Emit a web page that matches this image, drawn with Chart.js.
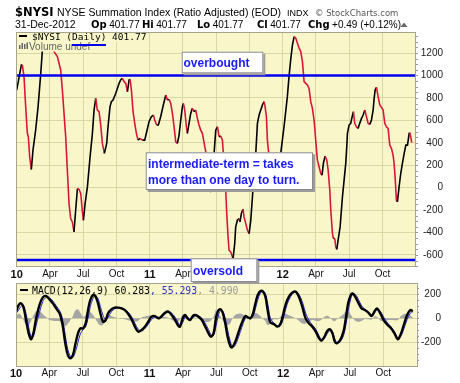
<!DOCTYPE html>
<html><head><meta charset="utf-8">
<script src="https://cdn.jsdelivr.net/npm/chart.js@4.4.0/dist/chart.umd.min.js"></script>
<style>
html,body{margin:0;padding:0;background:#fff;width:460px;height:383px;overflow:hidden}
canvas{position:absolute;left:0;top:0}
</style></head><body>
<canvas id="macd" width="460" height="383"></canvas>
<canvas id="main" width="460" height="383"></canvas>
<script>
// ---------- data ----------
const monthTickLabels = ['10','Apr','Jul','Oct','11','Apr','Jul','Oct','12','Apr','Jul','Oct'];
const monthTickValues = [0,3,6,9,12,15,18,21,24,27,30,33];
const nysiYTicks = [-600,-400,-200,0,200,400,600,800,1000,1200];
const macdYTicks = [-200,0,200];
const overbought = 1000;
const oversold = -645;
const headerStats = {date:'31-Dec-2012', op:'401.77', hi:'401.77', lo:'401.77', cl:'401.77', chg:'+0.49 (+0.12%)'};
const legendLast = '401.77';
const macdLegend = ['60.283', '55.293', '4.990'];

// months since Jan 2010
const nysiMonth = [
0.00,0.42,0.51,0.66,0.81,0.96,1.05,1.17,1.32,1.47,
1.71,1.93,2.17,2.32,2.55,2.85,3.10,3.37,3.67,3.97,
4.12,4.27,4.42,4.57,4.72,4.87,5.02,5.17,5.32,5.48,
5.63,5.78,5.93,6.02,6.17,6.38,6.62,6.83,6.98,7.13,
7.28,7.43,7.58,7.73,7.91,8.12,8.24,8.42,8.54,8.69,
8.94,9.24,9.38,9.53,9.69,9.84,9.99,10.14,10.23,10.35,
10.50,10.65,10.80,10.95,11.13,11.34,11.55,11.73,11.94,12.15,
12.33,12.45,12.63,12.78,12.99,13.23,13.45,13.60,13.75,13.90,
14.05,14.20,14.35,14.50,14.65,14.80,14.95,15.04,15.16,15.31,
15.40,15.55,15.70,15.85,16.00,16.15,16.30,16.45,16.60,16.75,
16.84,16.97,17.09,17.27,17.45,17.57,17.81,17.96,18.11,18.26,
18.41,18.56,18.71,18.86,18.95,19.07,19.16,19.31,19.47,19.52,
19.67,19.76,19.91,20.06,20.15,20.27,20.42,20.51,20.67,20.82,
20.97,21.12,21.27,21.42,21.57,21.72,21.87,22.02,22.17,22.32,
22.41,22.53,22.62,22.71,22.77,22.98,23.22,23.52,23.82,24.12,
24.42,24.57,24.72,24.88,25.03,25.18,25.33,25.48,25.63,25.78,
25.87,25.93,26.08,26.23,26.38,26.53,26.68,26.83,26.98,27.13,
27.28,27.43,27.55,27.67,27.82,27.98,28.10,28.25,28.34,28.49,
28.58,28.70,28.79,28.88,29.00,29.18,29.39,29.54,29.69,29.78,
29.84,29.99,30.14,30.23,30.38,30.50,30.65,30.80,30.95,31.11,
31.26,31.41,31.56,31.71,31.86,32.01,32.16,32.25,32.34,32.46,
32.61,32.76,32.91,33.06,33.21,33.36,33.51,33.66,33.81,33.96,
34.05,34.14,34.26,34.35,34.50,34.65,34.80,34.96,35.11,35.26,
35.41,35.46,35.55,35.64];
const nysiValue = [
870,1094,1094,990,722,484,454,275,162,335,
513,722,1019,1228,1300,1340,1290,1213,1168,1049,
870,662,454,156,-142,-276,-306,-395,-202,-8,
-17,-53,-217,-291,-142,7,275,484,692,796,
692,677,558,394,305,394,543,722,766,781,
841,930,960,975,945,930,856,960,966,870,
677,573,484,424,439,424,424,498,588,632,
647,603,558,558,632,737,826,781,787,751,
662,543,409,394,469,603,722,751,692,543,
484,573,662,707,677,692,617,558,513,484,
439,365,305,126,-38,-30,305,513,543,454,
460,424,216,-24,-231,-439,-558,-573,-618,-633,
-499,-350,-291,-276,-306,-231,-192,-261,-321,-380,
-410,-291,-82,126,305,573,647,692,737,766,
722,632,424,335,275,96,36,156,305,543,
811,990,1139,1272,1347,1332,1287,1243,1213,1124,
1019,945,930,915,885,766,707,603,424,245,
186,126,111,216,281,245,156,-23,-201,-410,
-454,-454,-529,-550,-469,-350,-82,67,216,365,
483,558,573,617,677,573,543,528,573,617,
647,692,632,573,564,603,692,796,870,894,
811,737,716,692,573,543,528,379,350,290,
216,96,-112,-127,7,126,216,305,379,379,
484,489,454,402];

const macdMonth = [
0,0.24,0.45,0.66,0.90,1.14,1.35,1.56,1.81,2.11,
2.41,2.71,3.01,3.31,3.61,3.91,4.06,4.21,4.36,4.51,
4.66,4.87,5.11,5.35,5.57,5.78,6.02,6.26,6.47,6.68,
6.92,7.13,7.37,7.58,7.82,8.06,8.27,8.57,8.87,9.18,
9.48,9.78,10.08,10.38,10.68,10.98,11.28,11.58,11.88,12.18,
12.48,12.79,13.09,13.39,13.69,13.99,14.29,14.59,14.74,14.98,
15.19,15.40,15.64,15.88,16.09,16.40,16.70,17.00,17.30,17.51,
17.75,17.99,18.20,18.41,18.59,18.80,19.01,19.25,19.40,19.61,
19.86,20.16,20.40,20.61,20.82,21.06,21.30,21.51,21.72,21.96,
22.20,22.41,22.56,22.71,22.86,23.16,23.47,23.71,23.92,24.13,
24.37,24.67,24.97,25.18,25.42,25.72,26.02,26.32,26.62,26.93,
27.23,27.44,27.68,27.98,28.22,28.43,28.64,28.82,29.12,29.42,
29.63,29.84,30.08,30.23,30.48,30.75,31.05,31.35,31.65,31.95,
32.19,32.43,32.73,33.03,33.39,33.69,34.00,34.30,34.54,34.84,
35.14,35.44,35.65];
const macdValue = [
56,111,125,97,-14,-125,-175,-125,0,111,
175,186,158,125,83,42,0,-69,-167,-250,
-306,-333,-306,-208,-125,-83,-83,-42,69,153,
194,186,125,42,-28,-14,42,75,89,89,
83,69,36,-8,-69,-111,-97,-69,-28,14,
19,0,19,47,56,28,-14,-64,-69,0,
28,0,-14,19,28,14,-14,-69,-125,-153,
-125,14,69,75,42,-42,-153,-231,-242,-214,
-153,-69,-14,19,8,0,42,125,194,228,
222,180,97,14,-36,-47,-69,-55,0,83,
153,200,222,219,180,97,0,-42,-69,-111,
-167,-186,-158,-103,-92,-125,-194,-208,-181,-111,
0,125,194,208,180,131,83,69,47,19,
56,83,42,-14,-55,-83,-125,-175,-139,-55,
28,69,60];
const signalValue = [
40,70,100,108,40,-70,-150,-150,-60,50,
140,175,172,145,105,65,35,-20,-100,-190,
-260,-315,-325,-275,-200,-130,-95,-70,0,100,
165,190,165,100,25,-10,10,55,80,88,
86,76,52,15,-40,-90,-105,-85,-50,-10,
12,10,8,35,52,42,10,-40,-60,-35,
10,12,-5,5,22,20,0,-40,-95,-135,
-140,-60,30,65,60,0,-95,-190,-230,-235,
-190,-110,-45,0,12,5,15,80,155,210,
228,205,150,70,0,-40,-60,-65,-30,40,
120,180,215,222,200,140,45,-15,-55,-90,
-145,-175,-170,-125,-100,-110,-170,-200,-195,-145,
-60,60,165,200,200,160,105,75,55,30,
40,70,60,10,-40,-70,-110,-160,-155,-90,
-10,45,55];
const histValue = [
16,41,25,-11,-54,-55,-25,25,60,61,
35,11,-14,-20,-22,-23,-35,-49,-67,-60,
-46,-18,19,67,75,47,12,28,69,53,
29,-4,-40,-58,-53,-4,32,20,9,1,
-3,-7,-16,-23,-29,-21,8,16,22,24,
7,-10,11,12,4,-14,-24,-24,-9,35,
18,-12,-9,14,6,-6,-14,-29,-30,-18,
15,74,39,10,-18,-42,-58,-41,-12,21,
37,41,31,19,-4,-5,27,45,39,18,
-6,-25,-53,-56,-36,-7,-9,10,30,43,
33,20,7,-3,-20,-43,-45,-27,-14,-21,
-22,-11,12,22,8,-15,-24,-8,14,34,
60,65,29,8,-20,-29,-22,-6,-8,-11,
16,13,-18,-24,-15,-13,-15,-15,16,35,
38,24,5];

// ---------- styles ----------
const PLOT_BG = '#f9f7c9', GRID = '#d9d8a4', BORDER = '#a5a48c';
const RED = '#dc143c', BLUE = '#0000ee', TEXTBLUE = '#1a1aff';
const SANS = '"Liberation Sans", Arial, sans-serif';
Chart.defaults.font.family = SANS;

const pts = (xs, ys) => xs.map((x, i) => ({x, y: ys[i]}));

function frame(chart) {
  const {ctx, chartArea: a} = chart;
  ctx.save();
  ctx.strokeStyle = BORDER; ctx.lineWidth = 1;
  ctx.strokeRect(Math.floor(a.left) + 0.5, Math.floor(a.top) + 0.5,
                 Math.round(a.right - a.left), Math.round(a.bottom - a.top));
  const y = chart.scales.y;
  ctx.strokeStyle = '#999';
  for (let v = Math.ceil(y.min / 50) * 50; v <= y.max; v += 50) {
    const py = Math.round(y.getPixelForValue(v)) + 0.5;
    ctx.beginPath(); ctx.moveTo(Math.round(a.right), py); ctx.lineTo(Math.round(a.right) + 2, py); ctx.stroke();
  }
  ctx.restore();
}
const bgPlugin = {
  id: 'bg',
  beforeDraw(chart) {
    const {ctx, chartArea: a} = chart;
    ctx.save(); ctx.fillStyle = PLOT_BG;
    ctx.fillRect(a.left, a.top, a.right - a.left, a.bottom - a.top);
    ctx.restore();
  }
};
function noteBox(ctx, x0, y0, x1, y1, lines, tx, ty) {
  ctx.fillStyle = '#9c9c9c'; ctx.fillRect(x0 + 2, y0 + 2, x1 - x0, y1 - y0);
  ctx.fillStyle = '#fff'; ctx.fillRect(x0, y0, x1 - x0, y1 - y0);
  ctx.strokeStyle = '#8a8a8a'; ctx.lineWidth = 1;
  ctx.strokeRect(x0 + 0.5, y0 + 0.5, x1 - x0 - 1, y1 - y0 - 1);
  ctx.fillStyle = TEXTBLUE; ctx.font = 'bold 12px ' + SANS; ctx.textBaseline = 'alphabetic'; ctx.textAlign = 'left';
  lines.forEach((t, i) => ctx.fillText(t, tx, ty + i * 16));
}
const mainDeco = {
  id: 'mainDeco',
  afterDraw(chart) {
    const ctx = chart.ctx;
    frame(chart);
    ctx.save();
    // header
    ctx.textBaseline = 'alphabetic'; ctx.textAlign = 'left'; ctx.fillStyle = '#000';
    ctx.font = 'bold 11.5px "DejaVu Sans"'; ctx.fillText('$NYSI', 15, 15.5);
    ctx.font = '10.5px ' + SANS; ctx.fillText('NYSE Summation Index (Ratio Adjusted) (EOD)', 57, 15.5);
    ctx.font = '9px ' + SANS; ctx.fillText('INDX', 287, 15.5);
    ctx.fillStyle = '#555'; ctx.font = '8.5px "DejaVu Sans"'; ctx.fillText('\u00A9 StockCharts.com', 315, 15.5);
    ctx.fillStyle = '#000'; ctx.font = '10.5px ' + SANS; ctx.fillText(headerStats.date, 15, 28);
    const items = [['Op', 91, headerStats.op], ['Hi', 142, headerStats.hi], ['Lo', 197, headerStats.lo],
                   ['Cl', 257, headerStats.cl], ['Chg', 308, headerStats.chg]];
    for (const [lab, x, val] of items) {
      ctx.font = 'bold 10px "DejaVu Sans"'; ctx.fillText(lab, x, 28);
      const w = ctx.measureText(lab).width;
      ctx.font = '10px ' + SANS; ctx.fillText(val, x + w + 2.5, 28);
    }
    ctx.fillStyle = '#666'; ctx.beginPath();
    ctx.moveTo(400.5, 27); ctx.lineTo(407.5, 27); ctx.lineTo(404, 22.5); ctx.closePath(); ctx.fill();
    // legend
    ctx.fillStyle = PLOT_BG; ctx.fillRect(17.5, 33, 131, 9); ctx.fillRect(17.5, 42, 75, 9.5);
    ctx.fillStyle = '#000'; ctx.fillRect(19, 35, 8, 2);
    ctx.font = '9.5px "DejaVu Sans Mono"'; ctx.fillText('$NYSI (Daily) ' + legendLast, 32, 39.5);
    ctx.fillStyle = '#666';
    ctx.fillRect(19, 45, 1.5, 4); ctx.fillRect(21.5, 43, 1.5, 6); ctx.fillRect(24, 44, 1.5, 5); ctx.fillRect(26.5, 42.5, 1.5, 6.5);
    ctx.font = '10px ' + SANS; ctx.fillText('Volume undef', 29, 49.5);
    ctx.fillStyle = BLUE; ctx.fillRect(72, 44, 34, 2);
    // notes
    noteBox(ctx, 181.7, 51.7, 263.3, 73.3, ['overbought'], 183.5, 67);
    noteBox(ctx, 145.7, 152.3, 313, 190, ['intermediate-term = takes', 'more than one day to turn.'], 148, 168);
    noteBox(ctx, 190.7, 258.3, 257.3, 282, ['oversold'], 193, 275);
    ctx.restore();
  }
};
const macdDeco = {
  id: 'macdDeco',
  afterDraw(chart) {
    const ctx = chart.ctx;
    frame(chart);
    ctx.save();
    ctx.textBaseline = 'alphabetic'; ctx.textAlign = 'left';
    ctx.font = '9.8px "DejaVu Sans Mono"';
    ctx.fillStyle = '#000'; ctx.fillRect(20, 289, 8, 2);
    let x = 32;
    const parts = [['MACD(12,26,9) ' + macdLegend[0], '#000'], [', ' + macdLegend[1], '#3030c8'], [', ' + macdLegend[2], '#999']];
    for (const [t, c] of parts) { ctx.fillStyle = c; ctx.fillText(t, x, 294); x += ctx.measureText(t).width; }
    ctx.restore();
  }
};

function xAxis(height, pad) {
  return {
    type: 'linear', min: 0, max: 36,
    afterBuildTicks: s => { s.ticks = monthTickValues.map(v => ({value: v})); },
    afterFit: s => { s.height = height; },
    grid: {color: GRID, drawTicks: false, lineWidth: 1},
    border: {display: false},
    ticks: {
      padding: pad, color: '#111', autoSkip: false, maxRotation: 0, minRotation: 0,
      callback: (v, i) => monthTickLabels[i],
      font: c => (c.index % 4 === 0) ? {family: SANS, size: 11, weight: 'bold'} : {family: SANS, size: 10}
    }
  };
}
function yAxis(min, max, ticks, width) {
  return {
    type: 'linear', position: 'right', min, max,
    afterBuildTicks: s => { s.ticks = ticks.map(v => ({value: v})); },
    afterFit: s => { s.width = width; },
    grid: {color: GRID, drawTicks: false, lineWidth: 1},
    border: {display: false},
    ticks: {crossAlign: 'far', padding: 0, color: '#222', font: {family: SANS, size: 10}, callback: v => String(v)}
  };
}
const common = {
  responsive: false, animation: false, events: [], devicePixelRatio: 1,
  plugins: {legend: {display: false}, tooltip: {enabled: false}},
  elements: {point: {radius: 0}}
};

new Chart(document.getElementById('main'), {
  type: 'line',
  data: {datasets: [
    {data: pts([0, 36], [overbought, overbought]), borderColor: BLUE, borderWidth: 2.5, tension: 0},
    {data: pts([0, 36], [oversold, oversold]), borderColor: BLUE, borderWidth: 2.5, tension: 0},
    {data: pts(nysiMonth, nysiValue), borderColor: '#000', borderWidth: 1.6, tension: 0,
     segment: {borderColor: c => c.p1.parsed.y < c.p0.parsed.y ? RED : '#000'}}
  ]},
  options: Object.assign({}, common, {
    layout: {padding: {left: 16.7, right: 17, top: 32.3, bottom: 100.3}},
    scales: {x: xAxis(16, 2), y: yAxis(-705, 1385, nysiYTicks, 27.3)}
  }),
  plugins: [bgPlugin, mainDeco]
});

new Chart(document.getElementById('macd'), {
  type: 'line',
  data: {datasets: [
    {data: pts(macdMonth, macdValue), borderColor: '#000', borderWidth: 2.4, tension: 0.35},
    {data: pts(macdMonth, signalValue), borderColor: '#2a2ad0', borderWidth: 1, tension: 0.35},
    {data: pts(macdMonth, histValue), borderColor: 'rgba(0,0,0,0)', borderWidth: 0, tension: 0.3,
     backgroundColor: '#a6a6a6', fill: 'origin'}
  ]},
  options: Object.assign({}, common, {
    layout: {padding: {left: 16, right: 19, top: 283.3, bottom: 3}},
    scales: {x: xAxis(14, 1), y: yAxis(-397, 292, macdYTicks, 24.3)}
  }),
  plugins: [bgPlugin, macdDeco]
});
</script>
</body></html>
